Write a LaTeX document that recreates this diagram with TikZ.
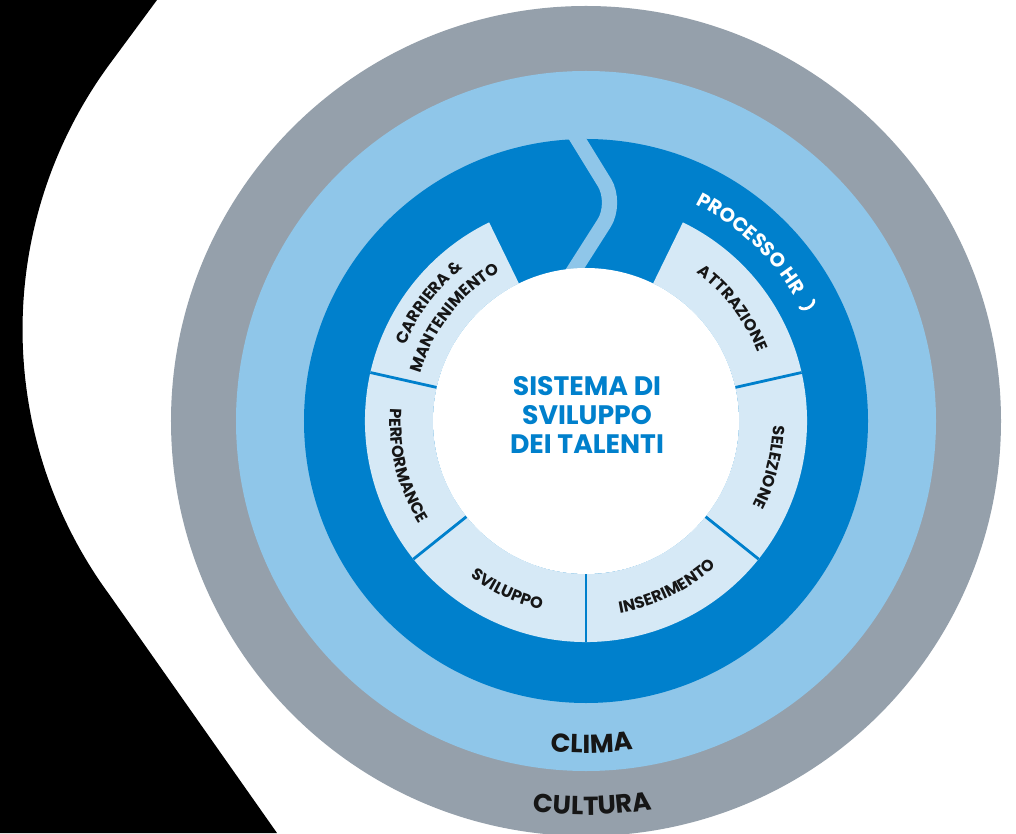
\documentclass[tikz,border=0pt]{standalone}
\usepackage{fontspec}
\usepackage{tikz}
\usetikzlibrary{decorations.text}
\newfontfamily\popfont{Poppins}
\definecolor{cultgray}{RGB}{149,160,171}
\definecolor{climablue}{RGB}{143,198,233}
\definecolor{hrblue}{RGB}{0,128,204}
\definecolor{segblue}{RGB}{214,233,246}
\definecolor{inkblack}{RGB}{22,22,22}
\def\RCore{153}
\def\RSeg{221}
\def\RProc{282}
\def\RClima{350}
\def\RCult{415}
\tikzset{
	seglabel/.style={decorate,decoration={text along path,text align=center,
		text={|\popfont\bfseries\fontsize{11.5}{12}\selectfont\color{inkblack}|#1}}},
	hrlabel/.style={decorate,decoration={text along path,text align=center,
		text={|\popfont\bfseries\fontsize{14}{15}\selectfont\color{white}|#1}}},
	ringlabel/.style={decorate,decoration={text along path,text align=center,
		text={|\popfont\bfseries\fontsize{18.5}{19}\selectfont\color{inkblack}|#1}}},
	divider/.style={hrblue,line width=0.07cm},
	chevband/.style={climablue,line width=0.38cm,rounded corners=0.6cm},
	hrmark/.style={white,line width=0.07cm,line cap=round},
}
\begin{document}
\begin{tikzpicture}[x=0.025cm,y=0.025cm]
	\useasboundingbox (-586,-412) rectangle (430,421);
	\clip (-586,-412) rectangle (430,421);
	\fill[white] (-586,-412) rectangle (430,421);
	% black side shape
	\fill[black] (-586,421) -- (-429,421) -- (-477,356)
		arc[start angle=143.8,end angle=216.2,radius=448]
		-- (-309,-412) -- (-586,-412) -- cycle;
	% rings
	\fill[cultgray] (0,0) circle[radius=\RCult];
	\fill[climablue] (0,0) circle[radius=\RClima];
	\fill[hrblue] (0,0) circle[radius=\RProc];
	\draw[chevband] (-17,296) -- (31,218) -- (-20,138);
	\draw[hrmark] (28:258) to[bend left=70] (28:242);
	% segments
	\fill[segblue] (64:\RSeg) arc[start angle=64,end angle=-244,radius=\RSeg]
		-- (-244:\RCore) arc[start angle=-244,end angle=64,radius=\RCore] -- cycle;
	\foreach \ang in {12.67,-38.67,-90,-141.33,-192.67}
		\draw[divider] (\ang:\RCore-2) -- (\ang:\RSeg);
	\fill[white] (0,0) circle[radius=\RCore];
	\node[align=center,text=hrblue,font=\popfont\bfseries\fontsize{19}{20.5}\selectfont] (core) at (1,6) {SISTEMA DI\\SVILUPPO\\DEI TALENTI};
	% labels
	\path[seglabel=ATTRAZIONE] (87.5:185) arc[start angle=87.5,end angle=-12.5,radius=185];
	\path[seglabel=SELEZIONE] (36:187) arc[start angle=36,end angle=-64,radius=187];
	\path[seglabel=INSERIMENTO] (-114:195) arc[start angle=-114,end angle=-14,radius=195];
	\path[seglabel=SVILUPPO] (-165:194) arc[start angle=-165,end angle=-65,radius=194];
	\path[seglabel=PERFORMANCE] (144:196) arc[start angle=144,end angle=244,radius=196];
	\path[seglabel={CARRIERA {\&}}] (193:196) arc[start angle=193,end angle=93,radius=196];
	\path[seglabel=MANTENIMENTO] (192:172) arc[start angle=192,end angle=92,radius=172];
	\path[hrlabel={PROCESSO HR}] (97:243) arc[start angle=97,end angle=-3,radius=243];
	\path[ringlabel=CLIMA] (-139:332) arc[start angle=-139,end angle=-39,radius=332];
	\path[ringlabel=CULTURA] (-139:394) arc[start angle=-139,end angle=-39,radius=394];
\end{tikzpicture}
\end{document}
